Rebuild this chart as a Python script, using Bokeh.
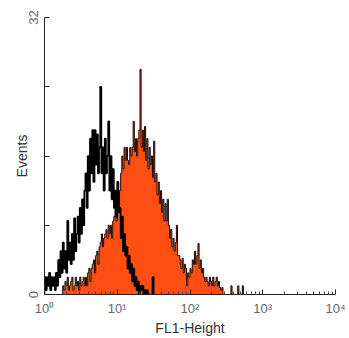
import numpy as np
from bokeh.plotting import figure
from bokeh.models import FixedTicker, Range1d
from bokeh.embed import file_html
from bokeh.resources import INLINE

# ---- data (histogram channels, 64 channels per decade) ----
channels_per_decade = 64

black_start = 0
black_counts = [
    2, 0.5, 2, 1, 2.5, 0.5, 2, 1, 2, 0.5, 2.5, 1,    # ch 0-11
    4, 2, 5, 2.5, 6, 3,                              # ch 12-17
    5, 2.5, 8.5, 4, 6, 3.5, 7, 4, 8.8, 5, 7,         # ch 18-28
    9, 6, 10, 7, 11, 8, 12,                          # ch 29-35
    14, 10, 16, 12, 18,                              # ch 36-40
    14, 19, 13, 19, 15,                              # ch 41-45
    18.5, 14, 17, 24,                                # ch 46-49
    14, 17, 12, 18, 14,                              # ch 50-54
    16, 20, 12, 16,                                  # ch 55-58
    11, 14.5, 10,                                    # ch 59-61
    12, 9, 13, 9.5,                                  # ch 62-65
    10, 6.5, 9, 5, 7, 4.5,                           # ch 66-71
    5.5, 3, 4.5, 2.5, 3.5,                           # ch 72-76
    1.5, 3, 1, 2,                                    # ch 77-80
    0.5, 1.5, 0, 1, 0.5, 1,                          # ch 81-86
    0, 0.5, 0, 0.5, 0, 0, 0, 0, 2, 0,                # ch 87-96
]

orange_start = 16
orange_counts = [
    1, 0.5, 1.5, 1, 2, 0.5, 1, 1.5, 2, 0.5, 1, 2, 1, 1.5, 0.5, 2, 1, 1.5, 2, 1,   # ch 16-35
    2, 1, 2.5, 3, 1.5, 3,                            # ch 36-41
    3.5, 4, 2.5, 4.5, 5, 3.5,                        # ch 42-47
    5.5, 6, 7, 5.5, 6.5, 7,                          # ch 48-53
    7.5, 6.5, 8, 7, 8, 6.5, 8.5,                     # ch 54-60
    9, 10, 8.5, 11, 10,                              # ch 61-65
    12, 14, 16, 14.5, 17, 15.5,                      # ch 66-71
    17, 15.5, 15, 17, 16,                            # ch 72-76
    17, 20, 16.5, 18, 16, 18,                        # ch 77-82
    19, 26, 17, 19,                                  # ch 83-86
    16.5, 19.4, 15.5, 18, 14.5, 17,                  # ch 87-92
    15, 16, 13.5, 17.7, 13,                          # ch 93-97
    14, 11.5, 13, 10.5, 12,                          # ch 98-102
    9.5, 11, 8.5, 10.5, 8.5, 11,                     # ch 103-108
    8, 6.5, 7.5, 5.5, 6.5, 5, 6,                     # ch 109-115
    8, 4.5, 4.5,                                     # ch 116-118
    4, 3, 4.2, 2.5, 3.5, 3,                          # ch 119-124
    1, 2.5, 2, 3, 2.5,                               # ch 125-129
    4, 3.5, 5, 3.5, 4.5,                             # ch 130-134
    5.9, 3, 4, 2.5, 3,                               # ch 135-139
    2, 1.5, 2,                                       # ch 140-142
    1.5, 1, 2, 1.5, 1, 2, 1,                         # ch 143-149
    1.5, 2, 1, 1.5,                                  # ch 150-153
    0.8, 0.5, 0.8, 0,                                # ch 154-157
    0, 0, 0, 0, 0, 0, 1, 0, 0, 0, 0, 0, 1, 0, 0, 0, 1, 0,  # ch 158-175
]

x_ticks = [1, 10, 100, 1000, 10000]
x_tick_labels = ["10\u2070", "10\u00b9", "10\u00b2", "10\u00b3", "10\u2074"]
y_ticks = [0, 8, 16, 24, 32]
y_tick_labels = {0: "0", 8: "", 16: "", 24: "", 32: "32"}
x_label = "FL1-Height"
y_label = "Events"


def step_xy(start, counts):
    n = len(counts)
    c = np.arange(start, start + n + 1)
    edges = 10.0 ** (c / channels_per_decade)
    xs = np.concatenate([[edges[0]], edges])
    ys = np.concatenate([[0.0], np.asarray(counts, dtype=float), [0.0]])
    return xs, ys


p = figure(
    x_axis_type="log",
    x_range=Range1d(1, 10000),
    y_range=Range1d(0, 32),
    width=349,
    height=338,
    min_border_left=44,
    min_border_right=14,
    min_border_top=17,
    min_border_bottom=41,
    output_backend="svg",
    toolbar_location=None,
)
p.outline_line_color = None
p.xgrid.visible = False
p.ygrid.visible = False
p.background_fill_color = "white"
p.border_fill_color = "white"

ox, oy = step_xy(orange_start, orange_counts)
p.varea_step(x=ox, y1=np.zeros_like(oy), y2=oy, step_mode="after",
             fill_color="#FF4E12", fill_alpha=1.0)
p.step(x=ox, y=oy, mode="after", line_color="#1a0804", line_width=1)

bx, by = step_xy(black_start, black_counts)
p.step(x=bx, y=by, mode="after", line_color="black", line_width=1.7)

minor = [m * d for d in [1, 10, 100, 1000] for m in range(2, 10)]
p.xaxis.ticker = FixedTicker(ticks=x_ticks, minor_ticks=minor)
p.xaxis.major_label_overrides = {t: lab for t, lab in zip(x_ticks, x_tick_labels)}
p.yaxis.ticker = FixedTicker(ticks=y_ticks, minor_ticks=[])
p.yaxis.major_label_overrides = y_tick_labels
p.yaxis.major_label_orientation = "vertical"

for ax in (p.xaxis[0], p.yaxis[0]):
    ax.major_tick_in = 5
    ax.major_tick_out = 0
    ax.minor_tick_in = 3
    ax.minor_tick_out = 0
    ax.axis_line_color = "#222222"
    ax.major_tick_line_color = "#222222"
    ax.minor_tick_line_color = "#444444"
    ax.major_label_text_font = "Liberation Sans"
    ax.major_label_text_font_size = "13px"
    ax.major_label_text_color = "#666666"
    ax.axis_label_text_font = "Liberation Sans"
    ax.axis_label_text_font_size = "14px"
    ax.axis_label_text_font_style = "normal"
    ax.axis_label_text_color = "#333333"

p.xaxis.major_label_standoff = 6
p.xaxis.axis_label_standoff = 1
p.yaxis.major_label_standoff = 7
p.yaxis.axis_label_standoff = -4

p.xaxis.axis_label = x_label
p.yaxis.axis_label = y_label

open("out.html", "w").write(file_html(p, INLINE))
